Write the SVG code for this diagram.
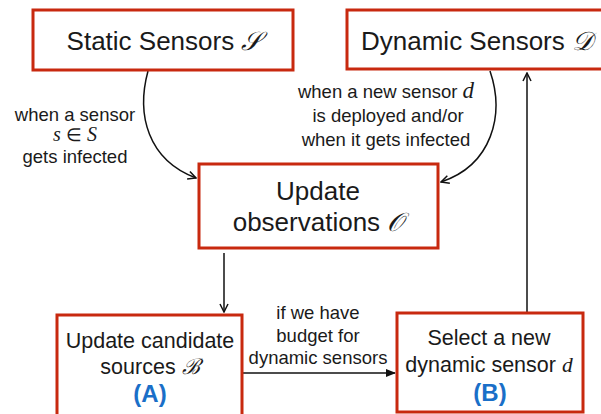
<svg xmlns="http://www.w3.org/2000/svg" width="601" height="414" viewBox="0 0 601 414">
<style>
.box{fill:#fff;stroke:#c8290f;stroke-width:3}
.t{font-family:"Liberation Sans",Arial,sans-serif;fill:#1a1a1a;text-anchor:middle}
.big{font-size:26px}
.mid{font-size:21.5px}
.lbl{font-size:18.5px}
.m{font-family:"Liberation Serif","DejaVu Serif",serif;font-style:italic}
.ab{font-family:"Liberation Sans",Arial,sans-serif;font-weight:bold;font-size:24px;fill:#1a6fc8;text-anchor:middle}
.ln{fill:none;stroke:#111;stroke-width:1.5}
</style>
<defs>
<marker id="open" viewBox="0 0 10 10" refX="9" refY="5" markerWidth="10" markerHeight="10" markerUnits="userSpaceOnUse" orient="auto">
<path d="M1,1 L9,5 L1,9" fill="none" stroke="#111" stroke-width="1.5"/>
</marker>
<marker id="fill" viewBox="0 0 10 10" refX="9" refY="5" markerWidth="10" markerHeight="10" markerUnits="userSpaceOnUse" orient="auto">
<path d="M0,1 L10,5 L0,9 Z" fill="#111"/>
</marker>
</defs>
<g id="connectors">
<path class="ln" d="M148,71 C136,115 148,160 196,178" marker-end="url(#open)"/>
<path class="ln" d="M490,71 C505,115 492,165 441,182" marker-end="url(#open)"/>
<path class="ln" d="M224,253 L224,312" marker-end="url(#open)"/>
<path class="ln" d="M242,373 L395,373" marker-end="url(#fill)"/>
<path class="ln" d="M527,312 L527,73" marker-end="url(#open)"/>
<text class="t lbl" x="75" y="121">when a sensor</text>
<text class="t" font-size="18" x="75" y="141"><tspan class="m" font-size="20">s</tspan> ∈ <tspan class="m" font-size="20">S</tspan></text>
<text class="t lbl" x="75" y="163">gets infected</text>
<text class="t lbl" x="386" y="98">when a new sensor <tspan class="m" font-size="23">d</tspan></text>
<text class="t lbl" x="388" y="122">is deployed and/or</text>
<text class="t lbl" x="386" y="146">when it gets infected</text>
<text class="t lbl" x="318" y="319">if we have</text>
<text class="t lbl" x="318" y="342">budget for</text>
<text class="t lbl" x="318" y="364">dynamic sensors</text>
</g>
<g id="static">
<rect class="box" x="33" y="10" width="260" height="60"/>
<text class="t big" x="164" y="50">Static Sensors <tspan class="m">𝒮</tspan></text>
</g>
<g id="dynamic">
<rect class="box" x="347" y="10" width="260" height="59"/>
<text class="t big" x="477" y="50">Dynamic Sensors <tspan class="m">𝒟</tspan></text>
</g>
<g id="observations">
<rect class="box" x="199" y="164" width="239" height="84"/>
<text class="t big" x="318" y="200">Update</text>
<text class="t big" x="318" y="231">observations <tspan class="m">𝒪</tspan></text>
</g>
<g id="candidates">
<rect class="box" x="57" y="315" width="185" height="104"/>
<text class="t mid" x="150" y="348">Update candidate</text>
<text class="t mid" x="150" y="374">sources <tspan class="m">ℬ</tspan></text>
<text class="ab" x="150" y="402">(A)</text>
</g>
<g id="select">
<rect class="box" x="397" y="313" width="186" height="99"/>
<text class="t mid" x="489" y="345">Select a new</text>
<text class="t mid" x="489" y="372">dynamic sensor <tspan class="m">d</tspan></text>
<text class="ab" x="490" y="401">(B)</text>
</g>
</svg>
